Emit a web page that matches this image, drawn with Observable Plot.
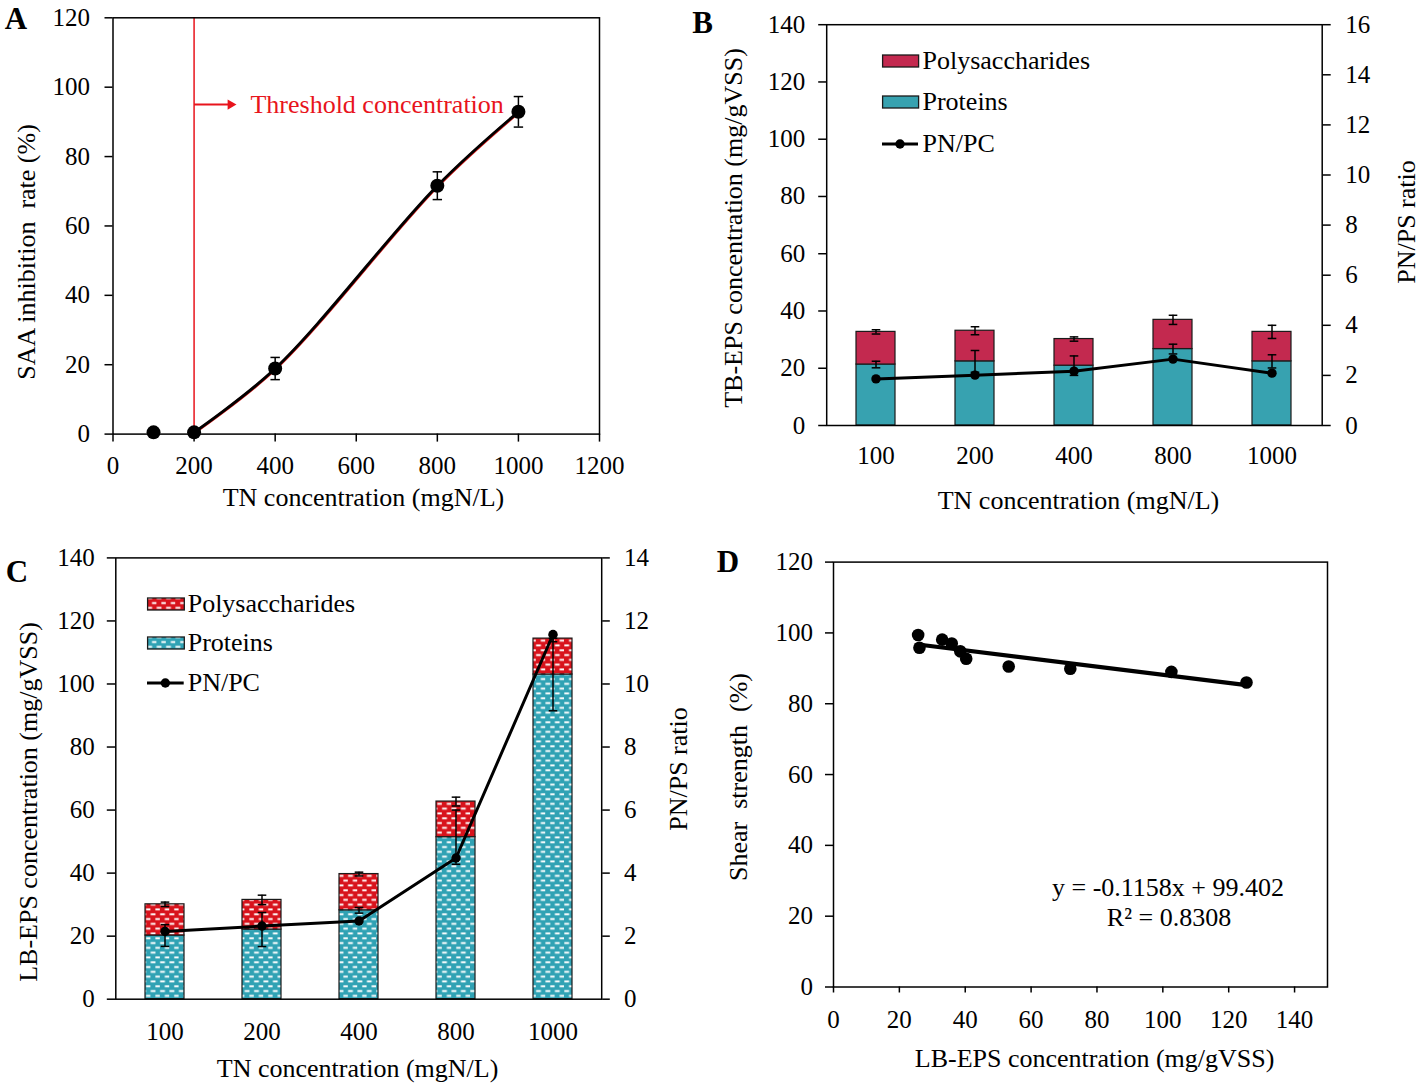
<!DOCTYPE html>
<html><head><meta charset="utf-8">
<script src="https://cdn.jsdelivr.net/npm/d3@7"></script>
<script src="https://cdn.jsdelivr.net/npm/@observablehq/plot@0.6"></script>
<style>
html,body{margin:0;padding:0;background:#fff;overflow:hidden}
#page{position:relative;width:1418px;height:1085px;background:#fff;font-family:"Liberation Serif","Times New Roman",serif;color:#000}
.lbl{position:absolute;white-space:pre;line-height:1}
</style></head>
<body>
<svg width="0" height="0" style="position:absolute">
<defs>
<pattern id="patTeal" width="9.4" height="9.6" patternUnits="userSpaceOnUse">
<rect width="9.4" height="9.6" fill="#30a2b4"/>
<rect x="0.3" y="1.3" width="4.8" height="1.9" fill="#ffffff"/>
<rect x="5.0" y="6.1" width="4.8" height="1.9" fill="#ffffff"/>
</pattern>
<pattern id="patRed" width="9.4" height="9.6" patternUnits="userSpaceOnUse">
<rect width="9.4" height="9.6" fill="#d8131c"/>
<rect x="0.3" y="1.3" width="4.8" height="1.9" fill="#ffffff"/>
<rect x="5.0" y="6.1" width="4.8" height="1.9" fill="#ffffff"/>
</pattern>
</defs></svg>
<div id="page"></div>
<script>
// ---------------- DATA ----------------
// Panel A
const tnA = [100, 200, 400, 800, 1000];
const saaA = [0.5, 0.5, 18.9, 71.6, 92.9];
const saaErrA = [0, 0, 3.2, 4.0, 4.4];
const thresholdTN = 200;
const arrowLevel = 95;
const arrowEndTN = 290;
const thresholdTextTN = 339;
const ticksAx = [0, 200, 400, 600, 800, 1000, 1200];
const ticksAy = [0, 20, 40, 60, 80, 100, 120];

// Panel B (TB-EPS)
const tnCats = ["100", "200", "400", "800", "1000"];
const tbProteins = [21.3, 22.4, 20.9, 26.7, 22.4];
const tbPolysacch = [11.4, 10.7, 9.3, 10.2, 10.3];
const tbProteinErr = [1.15, 3.8, 3.4, 1.7, 2.3];
const tbTotalErr = [0.75, 1.4, 0.75, 1.6, 2.3];
const tbRatio = [1.86, 2.01, 2.17, 2.65, 2.09];
const ticksBL = [0, 20, 40, 60, 80, 100, 120, 140];
const ticksBR = [0, 2, 4, 6, 8, 10, 12, 14, 16];

// Panel C (LB-EPS)
const lbProteins = [20.2, 22.1, 28.2, 51.4, 103.0];
const lbPolysacch = [9.9, 9.4, 11.5, 11.3, 11.4];
const lbProteinErr = [3.45, 5.4, 0.9, 8.6, 11.5];
const lbTotalErr = [0.7, 1.5, 0.6, 1.4, 1.0];
const lbRatio = [2.15, 2.32, 2.48, 4.48, 11.57];
const ticksCL = [0, 20, 40, 60, 80, 100, 120, 140];
const ticksCR = [0, 2, 4, 6, 8, 10, 12, 14];

// Panel D
const lbEps = [25.7, 26.1, 33.0, 35.9, 38.5, 40.3, 53.2, 71.9, 102.6, 125.4];
const shear = [99.4, 95.8, 98.1, 97.0, 94.8, 92.7, 90.5, 89.9, 89.0, 86.0];
const ticksDx = [0, 20, 40, 60, 80, 100, 120, 140];
const ticksDy = [0, 20, 40, 60, 80, 100, 120];

// ---------------- HELPERS ----------------
const W = 1418, H = 1085;
const page = document.getElementById("page");
const FONT = '"Liberation Serif", "Times New Roman", serif';
const RED = "#e8141c";
const TEAL_B = "#37a2b0", CRIM_B = "#c3294f";
const baseStyle = {fontFamily: FONT, fontSize: "25px", background: "transparent", overflow: "visible", color: "#000"};

function fm([x0, y0, x1, y1]) {
  return {width: W, height: H, marginLeft: x0, marginTop: y0, marginRight: W - x1, marginBottom: H - y1};
}
function add(svg) {
  svg.style.position = "absolute"; svg.style.left = "0px"; svg.style.top = "0px";
  page.appendChild(svg);
}
const capSymbol = (w) => ({draw(ctx) { ctx.moveTo(-w, 0); ctx.lineTo(w, 0); }});
function label(text, x, y, {size = 26, rotate = 0, weight = "normal", anchor = "middle", color = "#000"} = {}) {
  const d = document.createElement("div");
  d.className = "lbl";
  d.textContent = text;
  d.style.left = x + "px"; d.style.top = y + "px";
  d.style.fontSize = size + "px"; d.style.fontWeight = weight; d.style.color = color;
  const tx = anchor === "start" ? "0" : "-50%";
  d.style.transform = `translate(${tx},-50%)` + (rotate ? ` rotate(${rotate}deg)` : "");
  page.appendChild(d);
}
function legendRow(kind, fill, text, x0, x1, cy, tx) {
  const w = x1 - x0, h = 12;
  const d = document.createElement("div");
  d.style.position = "absolute"; d.style.left = x0 + "px"; d.style.top = (cy - 8) + "px";
  const ns = "http://www.w3.org/2000/svg";
  const s = document.createElementNS(ns, "svg");
  s.setAttribute("width", w + 2); s.setAttribute("height", 16);
  s.style.overflow = "visible";
  if (kind === "bar") {
    const r = document.createElementNS(ns, "rect");
    r.setAttribute("x", 0.6); r.setAttribute("y", 8 - h / 2); r.setAttribute("width", w); r.setAttribute("height", h);
    r.setAttribute("fill", fill); r.setAttribute("stroke", "#1a1a1a"); r.setAttribute("stroke-width", 1.3);
    s.appendChild(r);
  } else {
    const l = document.createElementNS(ns, "line");
    l.setAttribute("x1", 0); l.setAttribute("x2", w); l.setAttribute("y1", 8); l.setAttribute("y2", 8);
    l.setAttribute("stroke", "#000"); l.setAttribute("stroke-width", 3);
    const c = document.createElementNS(ns, "circle");
    c.setAttribute("cx", w / 2); c.setAttribute("cy", 8); c.setAttribute("r", 4.7); c.setAttribute("fill", "#000");
    s.appendChild(l); s.appendChild(c);
  }
  d.appendChild(s);
  page.appendChild(d);
  label(text, tx, cy, {anchor: "start", size: 26});
}
const axisOpts = (o) => ({label: null, fontSize: 25, strokeWidth: 1.5, ...o});

// ---------------- PANEL A ----------------
const dataA = tnA.map((tn, i) => ({tn, v: saaA[i], e: saaErrA[i]}));
const curveA = dataA.filter(d => d.tn >= thresholdTN);
const errA = dataA.filter(d => d.e > 0);
const capsA = errA.flatMap(d => [{tn: d.tn, y: d.v - d.e}, {tn: d.tn, y: d.v + d.e}]);
const annot = [{x1: thresholdTN, x2: arrowEndTN, y: arrowLevel, tx: thresholdTextTN}];
const frA = [112.5, 17.3, 599, 433.6];
add(Plot.plot({
  ...fm(frA), style: baseStyle,
  x: {domain: [0, 1200], axis: null}, y: {domain: [0, 120], axis: null},
  marks: [
    Plot.axisX(ticksAx, axisOpts({tickSize: 8, tickPadding: 14, tickFormat: d => String(d)})),
    Plot.axisY(ticksAy, axisOpts({tickSize: 8, tickPadding: 15, tickFormat: d => String(d)})),
    Plot.ruleX([thresholdTN], {stroke: RED, strokeWidth: 1.5}),
    Plot.link(annot, {x1: "x1", x2: "x2", y1: "y", y2: "y", stroke: RED, strokeWidth: 2}),
    Plot.dot(annot, {x: "x2", y: "y", symbol: "triangle", rotate: 90, r: 3.8, fill: RED}),
    Plot.text(annot, {x: "tx", y: "y", text: () => "Threshold concentration", fill: RED, textAnchor: "start", fontSize: 26}),
    Plot.line(curveA, {x: "tn", y: "v", curve: "catmull-rom", stroke: "#d01515", strokeWidth: 3, dx: 0.8}),
    Plot.line(curveA, {x: "tn", y: "v", curve: "catmull-rom", stroke: "#000", strokeWidth: 2.8}),
    Plot.ruleX(errA, {x: "tn", y1: d => d.v - d.e, y2: d => d.v + d.e, stroke: "#000", strokeWidth: 1.5}),
    Plot.dot(capsA, {x: "tn", y: "y", symbol: capSymbol(4.7), fill: "none", stroke: "#000", strokeWidth: 1.5}),
    Plot.dot(dataA, {x: "tn", y: "v", r: 7, fill: "#000"}),
    Plot.frame({strokeWidth: 1.5})
  ]
}));
label("A", 16, 18, {size: 31, weight: "bold"});
label("SAA inhibition  rate (%)", 26.6, 251.5, {rotate: -90});
label("TN concentration (mgN/L)", 363.5, 498);

// ---------------- STACKED PANEL BUILDER ----------------
function stackedPanel({fr, pi, po, proteins, polys, protErr, totErr, ratio, ticksL, ticksR, fillP, fillS, padL, padR, padX, tickL, tickR}) {
  const rows = tnCats.map((tn, i) => ({tn, p: proteins[i], t: proteins[i] + polys[i], pe: protErr[i], te: totErr[i], r: ratio[i]}));
  const caps = rows.flatMap(d => [
    {tn: d.tn, y: d.p - d.pe}, {tn: d.tn, y: d.p + d.pe},
    {tn: d.tn, y: d.t - d.te}, {tn: d.tn, y: d.t + d.te}
  ]);
  const xs = {type: "band", domain: tnCats, paddingInner: pi, paddingOuter: po, align: 0.5, axis: null};
  add(Plot.plot({
    ...fm(fr), style: baseStyle,
    x: xs, y: {domain: [0, ticksL[ticksL.length - 1]], axis: null},
    marks: [
      Plot.barY(rows, {x: "tn", y1: 0, y2: "p", fill: fillP, stroke: "#1a1a1a", strokeWidth: 1.2}),
      Plot.barY(rows, {x: "tn", y1: "p", y2: "t", fill: fillS, stroke: "#1a1a1a", strokeWidth: 1.2}),
      Plot.ruleX(rows, {x: "tn", y1: d => d.p - d.pe, y2: d => d.p + d.pe, stroke: "#000", strokeWidth: 1.5}),
      Plot.ruleX(rows, {x: "tn", y1: d => d.t - d.te, y2: d => d.t + d.te, stroke: "#000", strokeWidth: 1.5}),
      Plot.dot(caps, {x: "tn", y: "y", symbol: capSymbol(4.3), fill: "none", stroke: "#000", strokeWidth: 1.5}),
      Plot.axisX(tnCats, axisOpts({tickSize: 0, tickPadding: padX})),
      Plot.axisY(ticksL, axisOpts({anchor: "left", tickSize: tickL, tickPadding: padL, tickFormat: d => String(d)})),
      Plot.frame({strokeWidth: 1.5})
    ]
  }));
  add(Plot.plot({
    ...fm(fr), style: baseStyle,
    x: xs, y: {domain: [0, ticksR[ticksR.length - 1]], axis: null},
    marks: [
      Plot.axisY(ticksR, axisOpts({anchor: "right", tickSize: tickR, tickPadding: padR, tickFormat: d => String(d)})),
      Plot.line(rows, {x: "tn", y: "r", stroke: "#000", strokeWidth: 3}),
      Plot.dot(rows, {x: "tn", y: "r", r: 4.7, fill: "#000"})
    ]
  }));
}

// ---------------- PANEL B ----------------
stackedPanel({
  fr: [826.2, 24.2, 1321.7, 425], pi: 0.606, po: 0.303,
  proteins: tbProteins, polys: tbPolysacch, protErr: tbProteinErr, totErr: tbTotalErr, ratio: tbRatio,
  ticksL: ticksBL, ticksR: ticksBR, fillP: TEAL_B, fillS: CRIM_B,
  padL: 13.5, padR: 15, padX: 21, tickL: 8, tickR: 8
});
label("B", 702.5, 21.5, {size: 31, weight: "bold"});
label("TB-EPS concentration (mg/gVSS)", 734.4, 228, {rotate: -90});
label("PN/PS ratio", 1406.5, 221.6, {rotate: -90});
label("TN concentration (mgN/L)", 1078.5, 501);
legendRow("bar", CRIM_B, "Polysaccharides", 882, 918, 60.8, 922.5);
legendRow("bar", TEAL_B, "Proteins", 882, 918, 102.3, 922.5);
legendRow("line", null, "PN/PC", 882, 918, 144.4, 922.5);

// ---------------- PANEL C ----------------
stackedPanel({
  fr: [115.3, 557.4, 601.2, 998.7], pi: 0.596, po: 0.298,
  proteins: lbProteins, polys: lbPolysacch, protErr: lbProteinErr, totErr: lbTotalErr, ratio: lbRatio,
  ticksL: ticksCL, ticksR: ticksCR, fillP: "url(#patTeal)", fillS: "url(#patRed)",
  padL: 12.5, padR: 14.8, padX: 23, tickL: 8.5, tickR: 7.6
});
label("C", 17, 570.5, {size: 31, weight: "bold"});
label("LB-EPS concentration (mg/gVSS)", 29, 801.8, {rotate: -90});
label("PN/PS ratio", 679.4, 768.8, {rotate: -90});
label("TN concentration (mgN/L)", 357.6, 1069);
legendRow("bar", "url(#patRed)", "Polysaccharides", 146.6, 183.3, 604.4, 187.7);
legendRow("bar", "url(#patTeal)", "Proteins", 146.6, 183.3, 643.4, 187.7);
legendRow("line", null, "PN/PC", 146.6, 183.3, 682.7, 187.7);

// ---------------- PANEL D ----------------
const dataD = lbEps.map((x, i) => ({x, y: shear[i]}));
add(Plot.plot({
  ...fm([833, 561.6, 1327, 986.5]), style: baseStyle,
  x: {domain: [0, 150], axis: null}, y: {domain: [0, 120], axis: null},
  marks: [
    Plot.axisX(ticksDx, axisOpts({tickSize: 6, tickPadding: 17, tickFormat: d => String(d)})),
    Plot.axisY(ticksDy, axisOpts({tickSize: 8, tickPadding: 12.5, tickFormat: d => String(d)})),
    Plot.dot(dataD, {x: "x", y: "y", r: 6.3, fill: "#000"}),
    Plot.linearRegressionY(dataD, {x: "x", y: "y", ci: 0, stroke: "#000", strokeWidth: 4.2}),
    Plot.frame({strokeWidth: 1.5})
  ]
}));
label("D", 728, 560.5, {size: 31, weight: "bold"});
label("Shear  strength  (%)", 739, 776.6, {rotate: -90});
label("LB-EPS concentration (mg/gVSS)", 1094.6, 1058.5);
label("y = -0.1158x + 99.402", 1168, 888);
label("R\u00b2 = 0.8308", 1169, 917.6);
</script>
</body></html>
